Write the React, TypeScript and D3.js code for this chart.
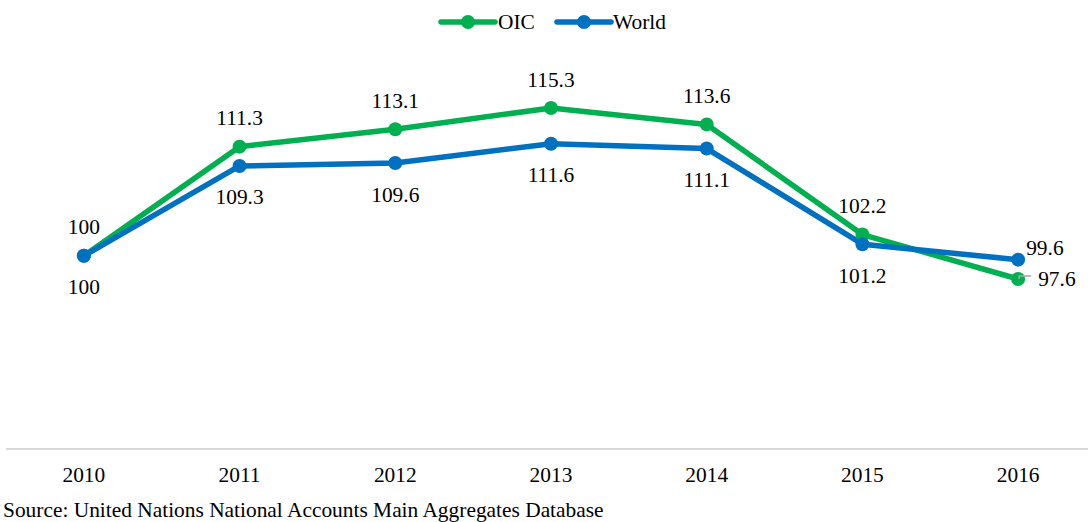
import React from "react";
import * as d3 from "d3";

const years = ["2010", "2011", "2012", "2013", "2014", "2015", "2016"];
const oicValues = [100, 111.3, 113.1, 115.3, 113.6, 102.2, 97.6];
const worldValues = [100, 109.3, 109.6, 111.6, 111.1, 101.2, 99.6];
const seriesNames = ["OIC", "World"];
const sourceText = "Source: United Nations National Accounts Main Aggregates Database";

const W = 1088;
const H = 522;
const GREEN = "#00B050";
const BLUE = "#0070C0";
const FONT = "'Liberation Serif', 'Times New Roman', serif";
const FS = 21.4;

export default function App() {
  const x = d3.scaleBand<string>().domain(years).range([6, 1096]);
  const cx = (i: number) => (x(years[i]) as number) + x.bandwidth() / 2;
  const y = d3.scaleLinear().domain([80, 120]).range([449, 62.6]);

  const line = d3
    .line<number>()
    .x((_, i) => cx(i))
    .y((d) => y(d));

  const series = [
    { name: seriesNames[0], values: oicValues, color: GREEN },
    { name: seriesNames[1], values: worldValues, color: BLUE },
  ];

  const last = years.length - 1;

  return (
    <svg
      width={W}
      height={H}
      style={{ position: "absolute", left: 0, top: 0, background: "#fff" }}
      fontFamily={FONT}
    >
      <rect x={0} y={0} width={W} height={H} fill="#fff" />
      {/* axis line */}
      <line x1={6} x2={W} y1={y(80)} y2={y(80)} stroke="#d9d9d9" strokeWidth={2} />
      {years.map((yr, i) => (
        <text key={yr} x={cx(i)} y={y(80) + 33} textAnchor="middle" fontSize={FS} fill="#000">
          {yr}
        </text>
      ))}

      {/* lines */}
      {series.map((s) => (
        <path
          key={s.name}
          d={line(s.values) || ""}
          fill="none"
          stroke={s.color}
          strokeWidth={5.5}
          strokeLinejoin="round"
          strokeLinecap="round"
        />
      ))}
      {series.map((s) =>
        s.values.map((v, i) => (
          <circle key={s.name + i} cx={cx(i)} cy={y(v)} r={7} fill={s.color} />
        ))
      )}

      {/* OIC labels above */}
      {oicValues.map((v, i) =>
        i === last ? null : (
          <text key={"ol" + i} x={cx(i)} y={y(v) - 21.5} textAnchor="middle" fontSize={FS} fill="#000">
            {String(v)}
          </text>
        )
      )}
      {/* World labels below */}
      {worldValues.map((v, i) =>
        i === last ? null : (
          <text key={"wl" + i} x={cx(i)} y={y(v) + 38.5} textAnchor="middle" fontSize={FS} fill="#000">
            {String(v)}
          </text>
        )
      )}
      {/* 2016 labels */}
      <text x={cx(last) + 8} y={y(worldValues[last]) - 5} fontSize={FS} fill="#000">
        {worldValues[last].toFixed(1)}
      </text>
      <polyline
        points={`${cx(last) + 1},${y(oicValues[last])} ${cx(last) + 1},${y(oicValues[last]) - 3} ${cx(last) + 13},${y(oicValues[last]) - 3}`}
        fill="none"
        stroke="#a6a6a6"
        strokeWidth={1.5}
      />
      <text x={cx(last) + 20} y={y(oicValues[last]) + 7} fontSize={FS} fill="#000">
        {oicValues[last].toFixed(1)}
      </text>

      {/* legend */}
      <g>
        <line x1={441} x2={495} y1={22} y2={22} stroke={GREEN} strokeWidth={5.5} strokeLinecap="round" />
        <circle cx={468} cy={22} r={7} fill={GREEN} />
        <text x={498} y={29} fontSize={FS} fill="#000">{seriesNames[0]}</text>
        <line x1={557} x2={611} y1={22} y2={22} stroke={BLUE} strokeWidth={5.5} strokeLinecap="round" />
        <circle cx={584} cy={22} r={7} fill={BLUE} />
        <text x={613} y={29} fontSize={FS} fill="#000">{seriesNames[1]}</text>
      </g>

      <text x={3} y={517} fontSize={FS} fill="#000">{sourceText}</text>
    </svg>
  );
}
